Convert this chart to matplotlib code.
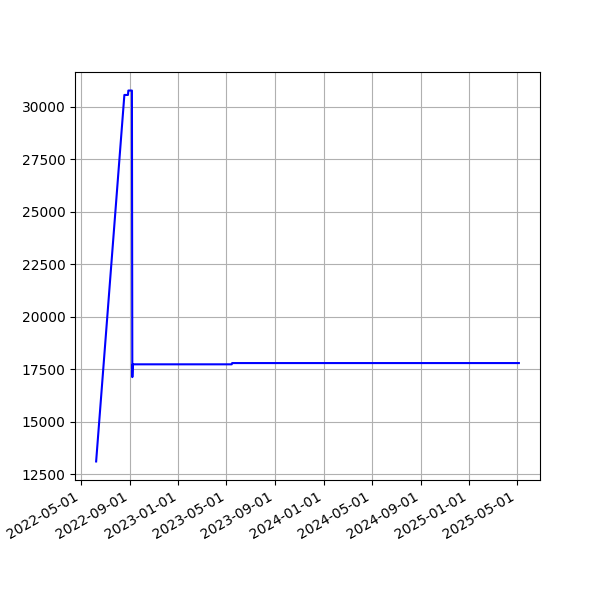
import matplotlib
matplotlib.use("Agg")
import matplotlib.pyplot as plt
import matplotlib.dates as mdates
import numpy as np

dates = np.array([
    "2022-06-08", "2022-08-18", "2022-08-27", "2022-08-28", "2022-09-06",
    "2022-09-07", "2022-09-08", "2023-05-15", "2023-05-16", "2025-05-06",
], dtype="datetime64[D]")
values = [13100, 30570, 30570, 30780, 30780, 17120, 17730, 17730, 17790, 17790]

fig, ax = plt.subplots(figsize=(6, 6), dpi=100)
ax.plot(dates, values, color="blue")
ax.grid(True)
ax.xaxis.set_major_locator(mdates.MonthLocator(bymonth=[1, 5, 9]))
ax.xaxis.set_major_formatter(mdates.DateFormatter("%Y-%m-%d"))
fig.autofmt_xdate()
fig.savefig("out.png")
